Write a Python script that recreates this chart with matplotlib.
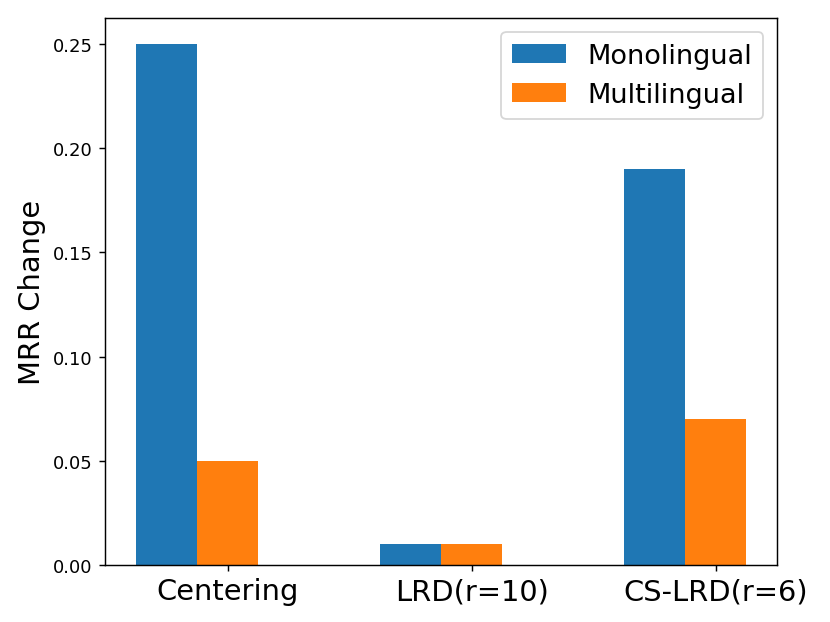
import numpy as np
import matplotlib.pyplot as plt

methods = ['Centering', 'LRD(r=10)', 'CS-LRD(r=6)']
monolingual = [0.25, 0.01, 0.19]
multilingual = [0.05, 0.01, 0.07]

x = np.arange(len(methods))
width = 0.25

fig, ax = plt.subplots(figsize=(6.385, 4.792), dpi=130)
ax.bar(x, monolingual, width, label='Monolingual', color='#1f77b4')
ax.bar(x + width, multilingual, width, label='Multilingual', color='#ff7f0e')
# ticks sit under the second bar of each group
ax.set_xticks(x + width)
ax.set_xticklabels(methods, fontsize=16)
ax.set_ylabel('MRR Change', fontsize=16)
ax.legend(fontsize=15)
plt.subplots_adjust(left=0.127, right=0.936, top=0.969, bottom=0.092)
plt.savefig('out.png')
